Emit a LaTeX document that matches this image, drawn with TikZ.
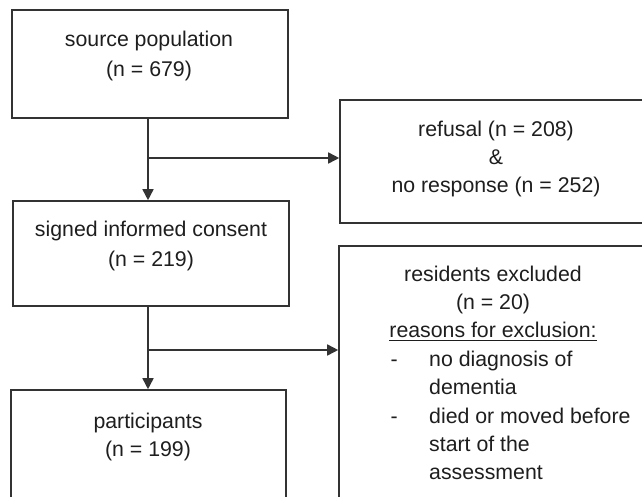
\documentclass[tikz,border=0pt]{standalone}
\usepackage{fontspec}
\setmainfont{Liberation Sans}
\usetikzlibrary{arrows.meta}
\definecolor{linec}{HTML}{333333}
\definecolor{textc}{HTML}{1E1E1E}
\newcommand\myul[1]{\setbox0\hbox{#1}\rlap{\color{textc}\rule[-3pt]{\wd0}{1.3pt}}\box0}
\newcommand\txtsize[1]{\fontsize{21.3}{#1}\selectfont}
\tikzset{
  boxnode/.style={draw=linec, line width=1.6pt, rectangle, inner sep=0pt},
  txtnode/.style={inner sep=0pt, anchor=base, text=textc},
  conn/.style={draw=linec, line width=1.6pt},
  arr/.style={conn, -{Triangle[length=11pt,width=11pt]}}
}
\begin{document}
\begin{tikzpicture}[x=1pt,y=-1pt]
\useasboundingbox (0,0) rectangle (642,496);
\fill[white] (0,0) rectangle (642,496);
\clip (0,0) rectangle (642,496);
% boxes
\node[boxnode, minimum width=276pt, minimum height=108pt] (src) at (150,64) {};
\node[boxnode, minimum width=276pt, minimum height=105pt] (sic) at (151,253.5) {};
\node[boxnode, minimum width=275pt, minimum height=140pt] (par) at (148.5,460) {};
\node[boxnode, minimum width=320pt, minimum height=123pt] (ref) at (500,161.5) {};
\node[boxnode, minimum width=321pt, minimum height=284pt] (exc) at (499.5,388) {};
% texts
\node[txtnode] (tsrc) at (149,46.5) {\txtsize{30}\begin{tabular}[t]{@{}c@{}}source population\\(n = 679)\end{tabular}};
\node[txtnode] (tsic) at (151,236.5) {\txtsize{29.5}\begin{tabular}[t]{@{}c@{}}signed informed consent\\(n = 219)\end{tabular}};
\node[txtnode] (tpar) at (148,428) {\txtsize{28}\begin{tabular}[t]{@{}c@{}}participants\\(n = 199)\end{tabular}};
\node[txtnode] (tref) at (496,136.5) {\txtsize{28}\begin{tabular}[t]{@{}c@{}}refusal (n = 208)\\\&\\no response (n = 252)\end{tabular}};
\node[txtnode] (texh) at (493,281) {\txtsize{28.4}\begin{tabular}[t]{@{}c@{}}residents excluded\\(n = 20)\\\myul{reasons for exclusion:}\end{tabular}};
\node[txtnode, anchor=base west] (texl) at (390.5,366.2) {\txtsize{28.4}\begin{tabular}[t]{@{}p{38.5pt}@{}l@{}}-&no diagnosis of\\&dementia\\-&died or moved before\\&start of the\\&assessment\end{tabular}};
% connectors
\coordinate (j1) at (148,158);
\coordinate (j2) at (148,350);
\draw[arr] (j1 |- src.south) -- (j1 |- sic.north);
\draw[arr] (j1) -- (j1 -| ref.west);
\draw[arr] (j2 |- sic.south) -- (j2 |- par.north);
\draw[arr] (j2) -- (j2 -| exc.west);
\end{tikzpicture}
\end{document}
